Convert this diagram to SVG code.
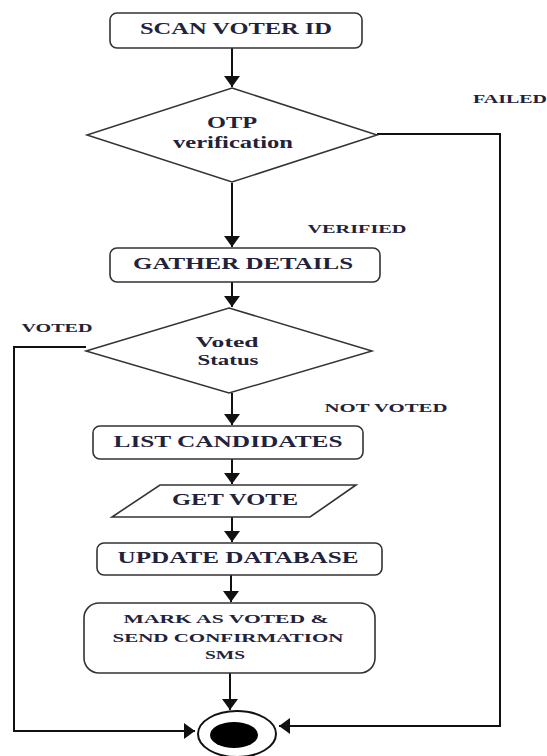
<svg xmlns="http://www.w3.org/2000/svg" width="547" height="756" viewBox="0 0 547 756">
<style>
  .box { fill: #ffffff; stroke: #333333; stroke-width: 1.6; }
  .dia { fill: #ffffff; stroke: #333333; stroke-width: 1.5; }
  .t { font-family: "Liberation Serif", "Times New Roman", serif; font-weight: bold; fill: #22223a; text-anchor: middle; dominant-baseline: central; }
  .lbl { font-size: 13px; }
  .big { font-size: 16px; }
  .mid { font-size: 15px; }
  .sm { font-size: 13px; }
  .ln { fill: none; stroke: #111111; stroke-width: 2; }
</style>
<defs>
  <marker id="ah" viewBox="0 0 11 16" refX="11" refY="8" markerWidth="5.5" markerHeight="8" orient="auto" markerUnits="strokeWidth">
    <path d="M0,0 L11,8 L0,16 z" fill="#111111"/>
  </marker>
</defs>
<rect width="547" height="756" fill="#ffffff"/>

<g id="connectors">
  <line class="ln" x1="232" y1="48" x2="232" y2="87" marker-end="url(#ah)"/>
  <line class="ln" x1="232" y1="183" x2="232" y2="247" marker-end="url(#ah)"/>
  <line class="ln" x1="232" y1="282" x2="232" y2="307" marker-end="url(#ah)"/>
  <line class="ln" x1="232" y1="393" x2="232" y2="425" marker-end="url(#ah)"/>
  <line class="ln" x1="232" y1="459" x2="232" y2="484" marker-end="url(#ah)"/>
  <line class="ln" x1="232" y1="517" x2="232" y2="542" marker-end="url(#ah)"/>
  <line class="ln" x1="231" y1="575" x2="231" y2="602" marker-end="url(#ah)"/>
  <line class="ln" x1="230" y1="673" x2="230" y2="710" marker-end="url(#ah)"/>
  <polyline class="ln" points="377,134 500,134 500,726 279,726" marker-end="url(#ah)"/>
  <polyline class="ln" points="86,347 14,347 14,731 195,731" marker-end="url(#ah)"/>
  <text class="t lbl" x="510" y="98" textLength="74" lengthAdjust="spacingAndGlyphs">FAILED</text>
  <text class="t lbl" x="357" y="228" textLength="99" lengthAdjust="spacingAndGlyphs">VERIFIED</text>
  <text class="t lbl" x="57" y="327" textLength="71" lengthAdjust="spacingAndGlyphs">VOTED</text>
  <text class="t lbl" x="386" y="407" textLength="123" lengthAdjust="spacingAndGlyphs">NOT VOTED</text>
</g>

<g id="scan">
  <rect class="box" x="110" y="13" width="252" height="35" rx="7"/>
  <text class="t big" x="236" y="28" textLength="192" lengthAdjust="spacingAndGlyphs">SCAN VOTER ID</text>
</g>

<g id="otp">
  <polygon class="dia" points="232,88 377,135 232,182 87,135"/>
  <text class="t big" x="232" y="122" textLength="50" lengthAdjust="spacingAndGlyphs">OTP</text>
  <text class="t big" x="233" y="142" textLength="120" lengthAdjust="spacingAndGlyphs">verification</text>
</g>

<g id="gather">
  <rect class="box" x="110" y="248" width="270" height="34" rx="7"/>
  <text class="t big" x="243" y="263" textLength="220" lengthAdjust="spacingAndGlyphs">GATHER DETAILS</text>
</g>

<g id="voted-status">
  <polygon class="dia" points="229,308 372,351 229,393 86,351"/>
  <text class="t mid" x="227" y="342" textLength="63" lengthAdjust="spacingAndGlyphs">Voted</text>
  <text class="t mid" x="228" y="360" textLength="61" lengthAdjust="spacingAndGlyphs">Status</text>
</g>

<g id="list">
  <rect class="box" x="93" y="426" width="270" height="33" rx="7"/>
  <text class="t big" x="228" y="441" textLength="229" lengthAdjust="spacingAndGlyphs">LIST CANDIDATES</text>
</g>

<g id="getvote">
  <polygon class="box" points="160,485 356,485 310,517 112,517"/>
  <text class="t big" x="235" y="499" textLength="126" lengthAdjust="spacingAndGlyphs">GET VOTE</text>
</g>

<g id="update">
  <rect class="box" x="97" y="543" width="285" height="32" rx="7"/>
  <text class="t big" x="238" y="557" textLength="241" lengthAdjust="spacingAndGlyphs">UPDATE DATABASE</text>
</g>

<g id="mark">
  <rect class="box" x="84" y="603" width="291" height="70" rx="15"/>
  <text class="t sm" x="226" y="618" textLength="205" lengthAdjust="spacingAndGlyphs">MARK AS VOTED &amp;</text>
  <text class="t sm" x="228" y="637" textLength="231" lengthAdjust="spacingAndGlyphs">SEND CONFIRMATION</text>
  <text class="t sm" x="225" y="654" textLength="40" lengthAdjust="spacingAndGlyphs">SMS</text>
</g>

<g id="end">
  <ellipse cx="237" cy="734" rx="39" ry="23" fill="#ffffff" stroke="#111111" stroke-width="2"/>
  <ellipse cx="234" cy="735" rx="24" ry="13" fill="#000000"/>
</g>
</svg>
